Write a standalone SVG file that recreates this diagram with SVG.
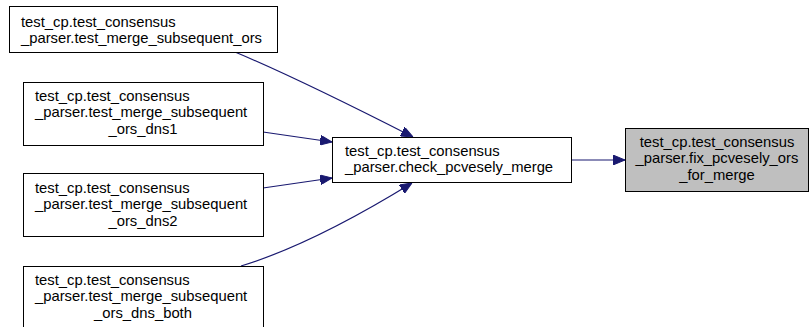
<svg xmlns="http://www.w3.org/2000/svg" width="809" height="327" viewBox="0 0 809 327">
<style>
.box{fill:#ffffff;stroke:#000000;stroke-width:1}
.hl{fill:#bfbfbf;stroke:#000000;stroke-width:1}
text{font-family:"Liberation Sans",Arial,Helvetica,sans-serif;font-size:14.8px;fill:#000000}
.c{text-anchor:middle}
.e{fill:none;stroke:#191970;stroke-width:1.2}
</style>
<defs>
<marker id="ah" viewBox="0 0 12 10" refX="12" refY="5" markerWidth="12" markerHeight="10" markerUnits="userSpaceOnUse" orient="auto">
<polygon points="0,0 12,5 0,10" fill="#191970" stroke="#191970"/>
</marker>
</defs>
<rect width="809" height="327" fill="#ffffff"/>
<g id="edges">
<path class="e" d="M235,52 C290,75 360,110 413,137" marker-end="url(#ah)"/>
<path class="e" d="M263,132 L332,142" marker-end="url(#ah)"/>
<path class="e" d="M263,188 L332,178" marker-end="url(#ah)"/>
<path class="e" d="M241,266 C300,248 360,215 412,183" marker-end="url(#ah)"/>
<path class="e" d="M571,160 L625,160" marker-end="url(#ah)"/>
</g>
<g id="n1">
<rect class="box" x="9.5" y="6.5" width="268" height="46"/>
<text x="21" y="27">test_cp.test_consensus</text>
<text x="21" y="43">_parser.test_merge_subsequent_ors</text>
</g>
<g id="n2">
<rect class="box" x="23.5" y="82.5" width="240" height="63"/>
<text x="35" y="101">test_cp.test_consensus</text>
<text x="35" y="117">_parser.test_merge_subsequent</text>
<text class="c" x="143" y="134">_ors_dns1</text>
</g>
<g id="n3">
<rect class="box" x="23.5" y="173.5" width="240" height="63"/>
<text x="35" y="193">test_cp.test_consensus</text>
<text x="35" y="209">_parser.test_merge_subsequent</text>
<text class="c" x="143" y="226">_ors_dns2</text>
</g>
<g id="n4">
<rect class="box" x="23.5" y="266.5" width="240" height="63"/>
<text x="35" y="285">test_cp.test_consensus</text>
<text x="35" y="301">_parser.test_merge_subsequent</text>
<text class="c" x="143" y="318">_ors_dns_both</text>
</g>
<g id="n5">
<rect class="box" x="332.5" y="137.5" width="239" height="45"/>
<text x="345" y="156">test_cp.test_consensus</text>
<text x="345" y="172">_parser.check_pcvesely_merge</text>
</g>
<g id="n6">
<rect class="hl" x="625.5" y="128.5" width="183" height="63"/>
<text class="c" x="717" y="147">test_cp.test_consensus</text>
<text class="c" x="717" y="163">_parser.fix_pcvesely_ors</text>
<text class="c" x="717" y="180">_for_merge</text>
</g>
</svg>
